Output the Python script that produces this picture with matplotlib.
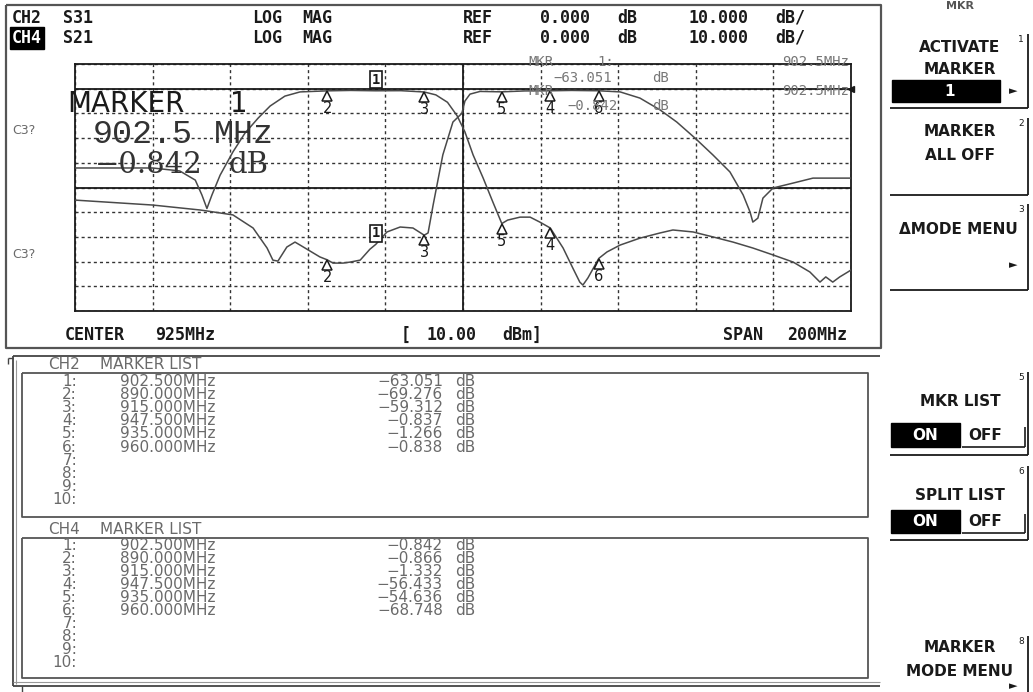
import numpy as np
import matplotlib
matplotlib.use("Agg")
import matplotlib.pyplot as plt
from matplotlib.transforms import offset_copy
from matplotlib.patches import Rectangle

center_mhz = 925.0
span_mhz = 200.0
ref_db = 0.0
scale_db = 10.0

ch4_freq = [825, 845, 852, 856, 857.7, 859, 860.3, 862.4, 865.7, 868.8, 872.2, 875.3,
            879.1, 883, 890, 896, 902.5, 909, 915, 918, 921, 923.5, 925.5, 927.6,
            930.2, 932.7, 935, 936.5, 939.7, 942.3, 944.8, 947.5, 950.8, 953.3, 955.1,
            955.9, 957.2, 960, 962.1, 965.5, 970.6, 975.8, 979.1, 984.3, 989.4, 994.6,
            999.7, 1004.9, 1010.1, 1014.4, 1017, 1018.5, 1020.3, 1022.1, 1024.2, 1025]
ch4_db = [-32.1, -32.1, -33.3, -37, -43, -48.5, -43, -35, -25.6, -18, -11.9, -7,
          -3, -1.3, -0.87, -0.7, -0.84, -0.8, -1.33, -2.5, -5.5, -11, -17.5, -26.8,
          -36.2, -45.9, -54.6, -53.2, -52, -52, -54, -56.4, -64.5, -72.6, -78.3,
          -79.5, -76.6, -68.7, -66.1, -63.3, -60.5, -58.4, -57.2, -58, -60, -62.1,
          -64.5, -67.3, -70.2, -74.2, -78.3, -76.2, -78.3, -76.2, -74.2, -73.4]

ch2_freq = [825, 845, 857.2, 859, 865.7, 870.9, 874.5, 876, 877.3, 879.6, 881.7, 883,
            888.1, 890, 891.5, 894.1, 895.9, 898.5, 901, 902.5, 905.4, 908.8, 912.1,
            915, 916, 917.3, 919.8, 922.4, 924.7, 925.5, 926.8, 929.4, 935, 941, 947.5,
            953, 960, 965.5, 970.6, 975.8, 980.1, 984.8, 989.4, 993.8, 997.2, 999,
            999.7, 1001, 1002.3, 1004.9, 1010.1, 1015.2, 1025]
ch2_db = [-45.1, -47.1, -49.1, -49.5, -51.1, -56.4, -64.5, -69.4, -69.8, -64.1, -62.1, -63.3,
          -68.1, -69.28, -70.6, -70.6, -70.2, -69.4, -65, -63.05, -58, -56, -56.4,
          -59.31, -58.4, -47.1, -26.8, -13.5, -10, -5, -2.2, -1.1, -1.27, -0.9, -0.84,
          -0.7, -0.84, -1.3, -3.8, -8.6, -13.5, -20, -26.8, -33.7, -43, -50,
          -54, -52.4, -44.3, -40.2, -38.2, -36.2, -36.2]

marker_ids = [1, 2, 3, 4, 5, 6]
marker_freq = [902.5, 890.0, 915.0, 947.5, 935.0, 960.0]
ch2_marker_db = [-63.051, -69.276, -59.312, -0.837, -1.266, -0.838]
ch4_marker_db = [-0.842, -0.866, -1.332, -56.433, -54.636, -68.748]

header_rows = [("CH2", "S31"), ("CH4", "S21")]
limit_line_db = -40.0
power_dbm = 10.00
list_rows = 10

# ---------------- figure ----------------
W, H = 1033, 692
fig = plt.figure(figsize=(W / 100, H / 100), dpi=100)
fig.patch.set_facecolor("white")
bg = fig.add_axes([0, 0, 1, 1])
bg.set_xlim(0, W)
bg.set_ylim(H, 0)
bg.axis("off")
bg.set_zorder(0)

DARK = "#1a1a1a"
GRAY = "#6a6a6a"
MONO = "DejaVu Sans Mono"


def line(xs, ys, c=DARK, lw=1.2, **kw):
    bg.plot(xs, ys, color=c, lw=lw, solid_capstyle="butt", **kw)


def txt(x, y, s, **kw):
    kw.setdefault("va", "center")
    kw.setdefault("ha", "left")
    return fig.text(x, y, s, transform=bg.transData, **kw)


def neg(v):
    return f"{v:.3f}".replace("-", "\u2212")


# ---------------- graph panel frame ----------------
line([6, 881, 881, 6, 6], [5, 5, 348, 348, 5], c="#555", lw=1.6)

hdr = dict(family=MONO, fontweight="bold", fontsize=12, color=DARK)
for i, (ch, par) in enumerate(header_rows):
    y = 18 + 20 * i
    if i == 1:
        txt(12, y, ch, color="white",
            bbox=dict(boxstyle="square,pad=0.12", fc="black", ec="black"),
            **{k: v for k, v in hdr.items() if k != "color"})
    else:
        txt(12, y, ch, **hdr)
    txt(63, y, par, **hdr)
    txt(252, y, "LOG", **hdr)
    txt(302, y, "MAG", **hdr)
    txt(463, y, "REF", **hdr)
    txt(540, y, f"{ref_db:.3f}", **hdr)
    txt(617, y, "dB", **hdr)
    txt(688, y, f"{scale_db:.3f}", **hdr)
    txt(775, y, "dB/", **hdr)

txt(65, 335, "CENTER", **hdr)
txt(155, 335, f"{center_mhz:.0f}MHz", **hdr)
txt(401, 335, "[", **hdr)
txt(427, 335, f"{power_dbm:.2f}", **hdr)
txt(502, 335, "dBm]", **hdr)
txt(723, 335, "SPAN", **hdr)
txt(787, 335, f"{span_mhz:.0f}MHz", **hdr)

txt(12, 131, "C3?", family="DejaVu Sans", fontsize=9, color=GRAY)
txt(12, 254, "C3?", family="DejaVu Sans", fontsize=9, color=GRAY)

# ---------------- plot axes ----------------
ax = fig.add_axes([75 / W, 1 - 311 / H, 776 / W, 247 / H])
ax.set_facecolor("none")
ax.set_zorder(1)
x0, x1 = center_mhz - span_mhz / 2, center_mhz + span_mhz / 2
ax.set_xlim(x0, x1)
ax.set_ylim(ref_db - 9 * scale_db, ref_db + scale_db)
ax.set_xticks(np.arange(x0, x1 + 1, span_mhz / 10))
ax.set_yticks(np.arange(ref_db - 9 * scale_db, ref_db + scale_db + 1, scale_db))
ax.tick_params(length=0, labelleft=False, labelbottom=False)
ax.grid(True, linestyle=(0, (2.2, 2.2)), color="#333", lw=1.0)
for s in ax.spines.values():
    s.set_color(DARK)
    s.set_linewidth(1.3)
ax.axhline(ref_db, color=DARK, lw=1.3)
ax.axhline(limit_line_db, color=DARK, lw=1.3)
ax.axvline(center_mhz, color=DARK, lw=1.3)

ax.plot(ch4_freq, ch4_db, color="#4a4a4a", lw=1.1, zorder=3)
ax.plot(ch2_freq, ch2_db, color="#4a4a4a", lw=1.1, zorder=3)

# markers
for vals in (ch4_marker_db, ch2_marker_db):
    for mid, f, v in zip(marker_ids, marker_freq, vals):
        if mid == 1:
            tr = offset_copy(ax.transData, fig=fig, x=0, y=4, units="dots")
            ax.text(f, v, "1", transform=tr, ha="center", va="bottom",
                    family=MONO, fontweight="bold", fontsize=10, color=DARK, zorder=5,
                    bbox=dict(boxstyle="square,pad=0.12", fc="white", ec=DARK, lw=1.2))
        else:
            trt = offset_copy(ax.transData, fig=fig, x=0, y=-5, units="dots")
            ax.plot([f], [v], marker="^", ms=7.5, mfc="white", mec=DARK, mew=1.1,
                    transform=trt, zorder=5, clip_on=False)
            trn = offset_copy(ax.transData, fig=fig, x=0, y=-10, units="dots")
            ax.text(f, v, str(mid), transform=trn, ha="center", va="top",
                    family="DejaVu Sans", fontsize=10.5, color=DARK, zorder=5)

# reference arrow on right edge
ax.plot([x1], [ref_db], marker="<", ms=5, color=DARK, clip_on=False, zorder=5)

# marker readouts (top right of grid)
ro = dict(family=MONO, fontsize=10, color="#777")
txt(528, 62, "MKR", **ro)
txt(597, 62, "1:", **ro)
txt(553, 78, neg(ch2_marker_db[0]), **ro)
txt(652, 78, "dB", **ro)
txt(849, 62, f"{marker_freq[0]:.1f}MHz", ha="right", **ro)
txt(528, 91, "MKR", **ro)
txt(567, 106, neg(ch4_marker_db[0]), **ro)
txt(652, 106, "dB", **ro)
txt(849, 91, f"{marker_freq[0]:.1f}MHz", ha="right", **ro)

# big active-marker overlay
txt(67, 112, "MARKER", va="baseline", family="DejaVu Sans", fontsize=20, color=DARK)
txt(230, 112, str(marker_ids[0]), va="baseline", family="DejaVu Sans", fontsize=20, color=DARK)
txt(93, 143, f"{marker_freq[0]:.1f}", va="baseline", family="Liberation Mono",
    fontsize=24, color="#333")
txt(214, 143, "MHz", va="baseline", family="Liberation Mono", fontsize=24, color="#333")
txt(95, 173, neg(ch4_marker_db[0]), va="baseline", family="DejaVu Serif", fontsize=21,
    color="#333")
txt(228, 173, "dB", va="baseline", family="DejaVu Serif", fontsize=21, color="#333")

# ---------------- marker list panel ----------------
line([13, 880], [356, 356], c="#444", lw=1.3)
line([13, 13], [356, 686], c="#444", lw=1.3)
line([16, 16], [360, 684], c="#999", lw=0.8)
line([13, 880], [686, 686], c="#444", lw=1.3)
line([13, 880], [682, 682], c="#999", lw=0.8)
line([8, 13], [358, 358], c="#444", lw=1.0)
line([8, 8], [358, 364], c="#444", lw=1.0)
line([22, 22], [686, 692], c="#444", lw=1.0)

lst = dict(family="DejaVu Sans", fontsize=11, color=GRAY)
lists = [("CH2", ch2_marker_db, 373, 517, 0.85),
         ("CH4", ch4_marker_db, 538, 678, 0.83)]
for ch, vals, top, bot, ls in lists:
    line([22, 868, 868, 22, 22], [top, top, bot, bot, top], c="#555", lw=1.3)
    txt(48, top - 1, ch, va="bottom", **lst)
    txt(100, top - 1, "MARKER LIST", va="bottom", **lst)
    ytop = top + 0.5
    labels = "\n".join(f"{i + 1}:" for i in range(list_rows))
    freqs = "\n".join(f"{f:.3f}MHz" for f in marker_freq)
    values = "\n".join(neg(v) for v in vals)
    units = "\n".join("dB" for _ in vals)
    txt(77, ytop, labels, ha="right", va="top", multialignment="right", linespacing=ls, **lst)
    txt(120, ytop, freqs, va="top", linespacing=ls, **lst)
    txt(443, ytop, values, ha="right", va="top", multialignment="right", linespacing=ls, **lst)
    txt(455, ytop, units, va="top", linespacing=ls, **lst)

# ---------------- softkeys ----------------
sk = dict(family="DejaVu Sans", fontweight="bold", fontsize=11, color=DARK, ha="center")
sup = dict(family="DejaVu Sans", fontsize=6.5, color=DARK, ha="center")
txt(960, 6, "MKR", family="DejaVu Sans", fontweight="bold", fontsize=8, color="#555", ha="center")


def key_edge(ytop, ybot, num, bottom=True):
    line([1028, 1028], [ytop, ybot], lw=1.3)
    if bottom:
        line([890, 1028], [ybot, ybot], lw=1.3)
    txt(1021, ytop + 6, str(num), **sup)


key_edge(34, 108, 1)
txt(960, 48, "ACTIVATE", **sk)
txt(960, 69, "MARKER", **sk)
bg.add_patch(Rectangle((892, 80), 108, 22, fc="black", ec="black"))
txt(950, 91, str(marker_ids[0]), **{**sk, "color": "white"})
txt(1013, 91, "\u25ba", family="DejaVu Sans", fontsize=8, color=DARK, ha="center")

key_edge(118, 195, 2)
txt(960, 131, "MARKER", **sk)
txt(960, 155, "ALL OFF", **sk)

key_edge(204, 290, 3)
txt(958, 230, "\u0394MODE MENU", **sk)
txt(1013, 265, "\u25ba", family="DejaVu Sans", fontsize=8, color=DARK, ha="center")

for (ytop, ybot, num, label, yl, yb0, yb1) in [(372, 455, 5, "MKR LIST", 402, 423, 447),
                                               (466, 540, 6, "SPLIT LIST", 495, 510, 533)]:
    key_edge(ytop, ybot, num)
    txt(960, yl, label, **sk)
    bg.add_patch(Rectangle((891, yb0), 69, yb1 - yb0, fc="black", ec="black"))
    txt(925, (yb0 + yb1) / 2, "ON", **{**sk, "color": "white"})
    txt(985, (yb0 + yb1) / 2, "OFF", **sk)
    line([962, 1025], [yb1, yb1], lw=1.2)
    line([1025, 1025], [yb0 + 4, yb1], lw=1.2)

key_edge(636, 692, 8, bottom=False)
txt(960, 648, "MARKER", **sk)
txt(960, 672, "MODE MENU", **sk)
txt(1013, 686, "\u25ba", family="DejaVu Sans", fontsize=8, color=DARK, ha="center")

fig.savefig("out.png", dpi=100, facecolor="white")
